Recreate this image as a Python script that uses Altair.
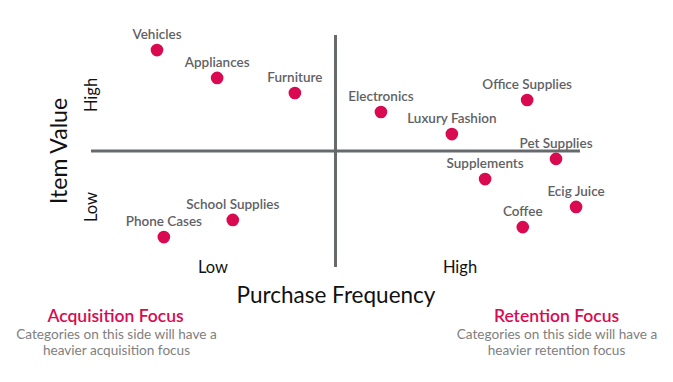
import altair as alt
import pandas as pd

# Data (x: purchase frequency 0-10, y: item value 0-10; midlines at 5)
categories = ["Vehicles", "Appliances", "Furniture", "Phone Cases", "School Supplies",
              "Electronics", "Luxury Fashion", "Office Supplies", "Pet Supplies",
              "Supplements", "Ecig Juice", "Coffee"]
frequency = [1.35, 2.58, 4.17, 1.49, 2.90, 5.93, 7.38, 8.92, 9.51, 8.06, 9.92, 8.83]
item_value = [9.35, 8.15, 7.50, 1.29, 2.03, 6.68, 5.73, 7.20, 4.66, 3.79, 2.59, 1.72]

axis_low, axis_mid, axis_high = 0, 5, 10

df = pd.DataFrame({"category": categories, "x": frequency, "y": item_value})
hline = pd.DataFrame({"x": [axis_low], "x2": [axis_high], "y": [axis_mid]})
vline = pd.DataFrame({"y": [axis_low], "y2": [axis_high], "x": [axis_mid]})

W, H = 657, 366
xs = alt.Scale(domain=[-1.697, 11.739], nice=False, zero=False)
ys = alt.Scale(domain=[-4.612, 11.164], nice=False, zero=False)

RED = "#d90a4f"
GREY_LINE = "#666a6d"
FONT = "Lato"

h = alt.Chart(hline).mark_rule(color=GREY_LINE, strokeWidth=3).encode(
    x=alt.X("x:Q", scale=xs, axis=None), x2="x2:Q",
    y=alt.Y("y:Q", scale=ys, axis=None))
v = alt.Chart(vline).mark_rule(color=GREY_LINE, strokeWidth=3).encode(
    x=alt.X("x:Q", scale=xs, axis=None),
    y=alt.Y("y:Q", scale=ys, axis=None), y2="y2:Q")

pts = alt.Chart(df).mark_circle(size=160, color=RED, opacity=1).encode(
    x=alt.X("x:Q", scale=xs, axis=None),
    y=alt.Y("y:Q", scale=ys, axis=None))

labels = alt.Chart(df).mark_text(dy=-15, font=FONT, fontSize=13.5, fontWeight=600,
                                 color="#5f6164").encode(
    x=alt.X("x:Q", scale=xs, axis=None),
    y=alt.Y("y:Q", scale=ys, axis=None),
    text="category:N")


def note(text, x, y, size, color="#111111", angle=0, weight="normal"):
    return alt.Chart(pd.DataFrame({"t": [text]})).mark_text(
        font=FONT, fontSize=size, color=color, angle=angle, fontWeight=weight,
        baseline="middle", align="center").encode(
        x=alt.value(x), y=alt.value(y), text="t:N")


NOTE_GREY = "#808080"
notes = [
    note("High", 84, 87, 16.5, angle=270),
    note("Low", 84, 199, 16.5, angle=270),
    note("Item Value", 52, 143, 23, angle=270),
    note("Low", 205, 260, 16.5),
    note("High", 452, 260, 16.5),
    note("Purchase Frequency", 328, 288, 22.5),
    note("Acquisition Focus", 107.5, 309, 17.5, color=RED, weight=600),
    note("Categories on this side will have a", 108.5, 327, 13.6, color=NOTE_GREY),
    note("heavier acquisition focus", 108.5, 343, 13.6, color=NOTE_GREY),
    note("Retention Focus", 548.5, 309, 17.5, color=RED, weight=600),
    note("Categories on this side will have a", 549, 327, 13.6, color=NOTE_GREY),
    note("heavier retention focus", 548.5, 343, 13.6, color=NOTE_GREY),
]

chart = alt.layer(h, v, pts, labels, *notes).properties(
    width=W, height=H, autosize=alt.AutoSizeParams(type="none"), padding=0
).configure_view(stroke=None)

chart.save("out.html", embed_options={"renderer": "svg", "actions": False})
